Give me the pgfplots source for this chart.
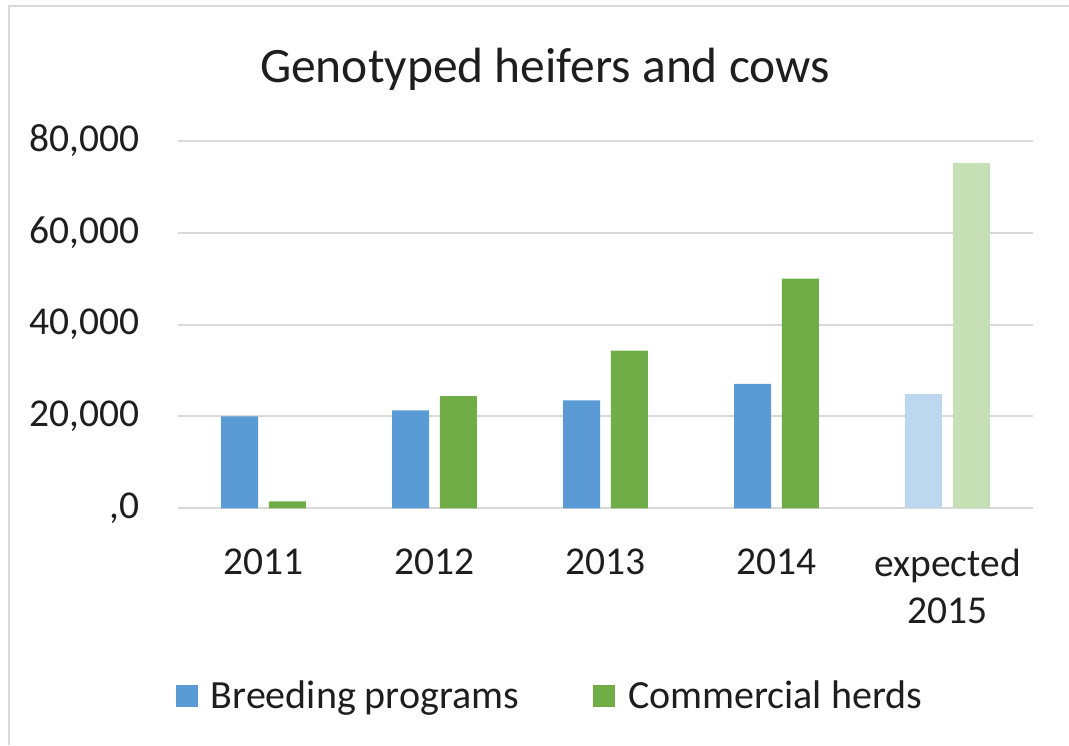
\documentclass[border=0pt]{standalone}
\usepackage{fontspec}
\setmainfont{Carlito}
\usepackage{pgfplots}
\pgfplotsset{compat=1.18}
\definecolor{cblue}{HTML}{5B9BD5}
\definecolor{cgreen}{HTML}{70AD47}
\definecolor{lblue}{HTML}{BDD7EE}
\definecolor{lgreen}{HTML}{C5E0B4}
\definecolor{gridc}{HTML}{D9D9D9}
\definecolor{txt}{HTML}{1E1E1E}
\definecolor{bord}{HTML}{D9D9D9}
\begin{document}
\begin{tikzpicture}
\path[use as bounding box] (0pt,0pt) rectangle (534.5pt,372.5pt);
\draw[bord, line width=1pt] (4.5pt,0pt) -- (4.5pt,369.5pt) -- (534.5pt,369.5pt);
\node[anchor=base, font=\fontsize{24.75}{29}\selectfont, text=txt, inner sep=0pt] at (272.5pt,331pt) {Genotyped heifers and cows};
\begin{axis}[
  at={(89pt,118.35pt)}, anchor=south west, scale only axis,
  width=427.5pt, height=183.8pt,
  ybar, bar width=18.5pt,
  xmin=-0.5, xmax=4.5, ymin=0, ymax=80000,
  scaled y ticks=false,
  axis line style={draw=none},
  ymajorgrids, grid style={gridc, line width=1pt},
  major tick length=0pt,
  xtick={0,1,2,3,4},
  xticklabels={2011,2012,2013,2014,{expected\\2015}},
  ytick={0,20000,40000,60000,80000},
  yticklabels={{,0},{20,000},{40,000},{60,000},{80,000}},
  xticklabel style={font=\fontsize{19.75}{23.5}\selectfont, text=txt, align=center, anchor=north, inner sep=0pt, yshift=-20pt},
  yticklabel style={font=\fontsize{19.75}{22.5}\selectfont, text=txt, anchor=east, inner sep=0pt, xshift=-19pt},
  legend style={at={(0.4339,-0.5106)}, anchor=center, draw=none, fill=none,
    font=\fontsize{20}{24}\selectfont, text=txt, legend columns=2,
    /tikz/every odd column/.style={column sep=6.5pt},
    /tikz/every even column/.append style={column sep=37pt},
    nodes={inner sep=0pt}},
  legend image code/.code={\fill[#1] (0pt,-5.5pt) rectangle (11pt,5.5pt);},
]
\addplot[fill=cblue, draw=none, bar shift=-11.9pt] coordinates {(0,20000) (1,21300) (2,23500) (3,27100)};
\addplot[fill=cgreen, draw=none, bar shift=11.9pt] coordinates {(0,1500) (1,24400) (2,34300) (3,50000)};
\addplot[fill=lblue, draw=none, bar shift=-11.9pt, forget plot] coordinates {(4,24900)};
\addplot[fill=lgreen, draw=none, bar shift=11.9pt, forget plot] coordinates {(4,75200)};
\legend{Breeding programs, Commercial herds}
\end{axis}
\end{tikzpicture}
\end{document}
